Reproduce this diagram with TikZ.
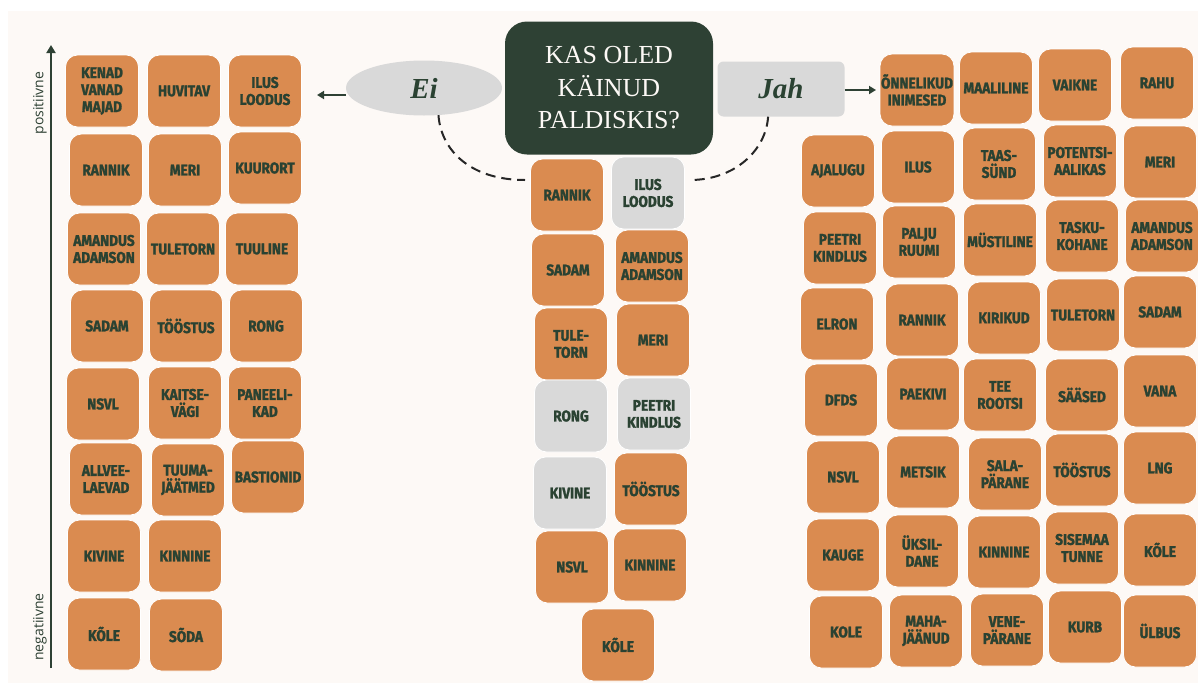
\documentclass[tikz,border=0pt]{standalone}
\usepackage{fontspec}
\usetikzlibrary{positioning,arrows.meta,shapes.geometric}
\newfontfamily\tagfont{Fira Sans}[FakeStretch=0.88, BoldFeatures={FakeBold=1.6}]
\newfontfamily\titlefont{Liberation Serif}
\newfontfamily\handfont{Liberation Serif}
\newfontfamily\axisfont{Open Sans}
\definecolor{pdOrange}{RGB}{218,139,80}
\definecolor{pdGrey}{RGB}{217,217,217}
\definecolor{pdDark}{RGB}{46,65,52}
\definecolor{pdText}{RGB}{42,66,50}
\definecolor{pdCream}{RGB}{253,249,246}

\tikzset{
  tag/.style={fill=pdOrange, draw=white, line width=0.8pt, rounded corners=12pt,
    minimum width=73pt, minimum height=72pt, inner sep=1pt, align=center,
    text=pdText, font=\tagfont\bfseries\fontsize{15.5}{17}\selectfont},
  answer/.style={fill=pdGrey, text=pdText,
    font=\handfont\bfseries\itshape\fontsize{29}{30}\selectfont},
  pointer/.style={pdDark, line width=2pt, -{Triangle[length=7pt,width=8pt]}},
  swing/.style={black!85, line width=2pt, dash pattern=on 10pt off 6pt}
}

\begin{document}
\begin{tikzpicture}[x=1pt,y=-1pt]
  \useasboundingbox (0,0) rectangle (1198,683);
  \fill[pdCream] (8,11) rectangle (1198,683);

  % Question and the two answers
  \node[fill=pdDark, rounded corners=22pt, minimum width=208pt, minimum height=133pt,
    text=pdCream, align=center, font=\titlefont\fontsize{26}{32.5}\selectfont]
    (ask) at (609,88) {KAS OLED\\KÄINUD\\PALDISKIS?};
  \node[answer, ellipse, minimum width=156pt, minimum height=55pt] (ei) at (424,88) {Ei};
  \node[answer, rounded corners=6pt, minimum width=127pt, minimum height=55pt] (jah) at (781,89) {Jah};

  \coordinate (eiTip) at (317,95);
  \coordinate (jahTip) at (876,90);
  \draw[pointer] (ei.west |- eiTip) -- (eiTip);
  \draw[pointer] (jah.east |- jahTip) -- (jahTip);

  % Dashed swings into the shared words
  \coordinate (bothL) at (525,180);
  \coordinate (bothR) at (690,180);
  \draw[swing] (ei.-62) .. controls (441,150) and (470,180) .. (bothL);
  \draw[swing] (jah.-115) .. controls (766,150) and (735,180) .. (bothR);

  % Axis
  \coordinate (axTop) at (51,45);
  \coordinate (axBot) at (51,668);
  \draw[pointer, -{Triangle[length=8pt,width=9pt]}] (axBot) -- (axTop);
  \node[rotate=90, text=pdDark, font=\axisfont\fontsize{14}{15}\selectfont] (pos) at (40,103) {positiivne};
  \node[rotate=90, text=pdDark, font=\axisfont\fontsize{14}{15}\selectfont] (neg) at (40,627) {negatiivne};

  % Ei side
  \begin{scope}
    \foreach \lbl/\x/\y [count=\i] in {
      {KENAD\\VANAD\\MAJAD}/102/91, HUVITAV/184/91, {ILUS\\LOODUS}/265/91,
      RANNIK/106/170, MERI/185/170, KUURORT/265/168,
      {AMANDUS\\ADAMSON}/104/249, TULETORN/183/249, TUULINE/262/249,
      SADAM/107/326, TÖÖSTUS/186/326, RONG/266/326,
      NSVL/103/404, {KAITSE-\\VÄGI}/185/403, {PANEELI-\\KAD}/265/403,
      {ALLVEE-\\LAEVAD}/106/479, {TUUMA-\\JÄÄTMED}/188/480, BASTIONID/268/477,
      KIVINE/104/556, KINNINE/185/556,
      KÕLE/104/634, SÕDA/186/635}
      \node[tag] (ei\i) at (\x,\y) {\lbl};
  \end{scope}

  % Both sides
  \begin{scope}
    \foreach \fc/\lbl/\x/\y [count=\i] in {
      pdOrange/RANNIK/567/195, pdGrey/{ILUS\\LOODUS}/648/193,
      pdOrange/SADAM/568/270, pdOrange/{AMANDUS\\ADAMSON}/652/266,
      pdOrange/{TULE-\\TORN}/571/344, pdOrange/MERI/653/340,
      pdGrey/RONG/571/416, pdGrey/{PEETRI\\KINDLUS}/654/414,
      pdGrey/KIVINE/570/493, pdOrange/TÖÖSTUS/651/489,
      pdOrange/NSVL/572/567, pdOrange/KINNINE/650/565,
      pdOrange/KÕLE/618/645}
      \node[tag, fill=\fc] (both\i) at (\x,\y) {\lbl};
  \end{scope}

  % Jah side
  \begin{scope}
    \foreach \lbl/\x/\y [count=\i] in {
      {ÕNNELIKUD\\INIMESED}/917/90, MAALILINE/996/88, VAIKNE/1075/85, RAHU/1157/83,
      AJALUGU/838/171, ILUS/918/167, {TAAS-\\SÜND}/999/164, {POTENTSI-\\AALIKAS}/1080/161, MERI/1160/162,
      {PEETRI\\KINDLUS}/840/248, {PALJU\\RUUMI}/919/242, MÜSTILINE/1000/240, {TASKU-\\KOHANE}/1082/236, {AMANDUS\\ADAMSON}/1162/236,
      ELRON/837/324, RANNIK/922/320, KIRIKUD/1004/318, TULETORN/1083/315, SADAM/1160/312,
      DFDS/841/400, PAEKIVI/923/394, {TEE\\ROOTSI}/1000/395, SÄÄSED/1082/395, VANA/1160/391,
      NSVL/843/477, METSIK/923/472, {SALA-\\PÄRANE}/1005/474, TÖÖSTUS/1082/470, LNG/1160/468,
      KAUGE/843/555, {ÜKSIL-\\DANE}/922/551, KINNINE/1004/552, {SISEMAA\\TUNNE}/1082/548, KÕLE/1160/550,
      KOLE/846/632, {MAHA-\\JÄÄNUD}/926/631, {VENE-\\PÄRANE}/1007/630, KURB/1085/627, ÜLBUS/1160/631}
      \node[tag] (jah\i) at (\x,\y) {\lbl};
  \end{scope}
\end{tikzpicture}
\end{document}
